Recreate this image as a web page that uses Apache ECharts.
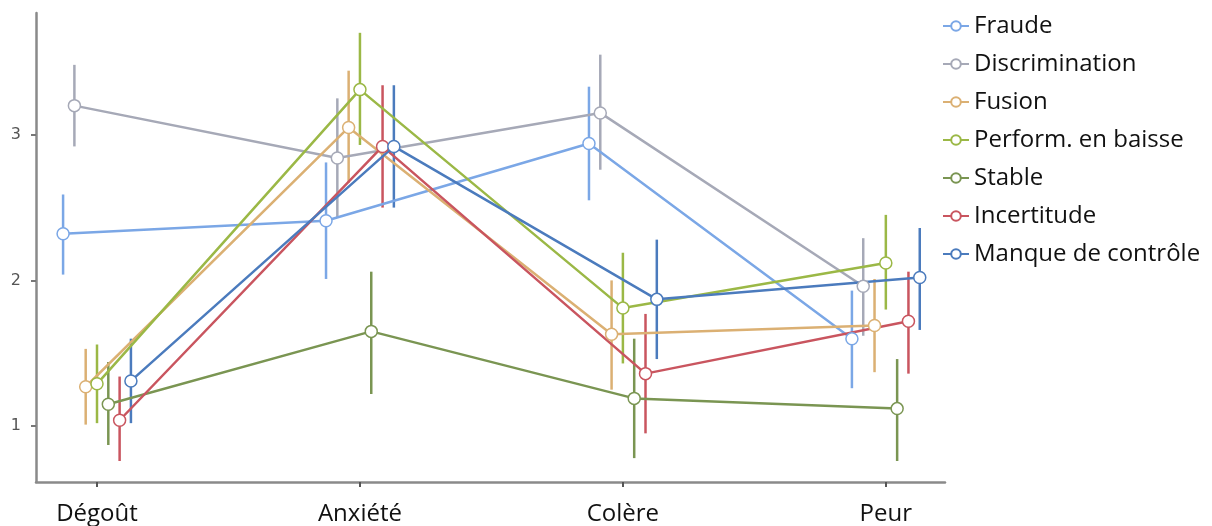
<!DOCTYPE html>
<html>
<head>
<meta charset="utf-8">
<script src="https://cdn.jsdelivr.net/npm/echarts@6/dist/echarts.min.js"></script>
<style>html,body{margin:0;padding:0;background:#fff}#c{width:1212px;height:526px}</style>
</head>
<body>
<div id="c"></div>
<script>
const categories = ['Dégoût', 'Anxiété', 'Colère', 'Peur'];
const seriesNames = ['Fraude', 'Discrimination', 'Fusion', 'Perform. en baisse', 'Stable', 'Incertitude', 'Manque de contrôle'];
const colors = ['#7ba7e6', '#a6a9b7', '#dbb073', '#9bb846', '#7a9552', '#c9555f', '#4b7bbd'];
const yTicks = [1, 2, 3];

// mean values per series, one per category
const fraude         = [2.32, 2.41, 2.94, 1.60];
const discrimination = [3.20, 2.84, 3.15, 1.96];
const fusion         = [1.27, 3.05, 1.63, 1.69];
const perform        = [1.29, 3.31, 1.81, 2.12];
const stable         = [1.15, 1.65, 1.19, 1.12];
const incertitude    = [1.04, 2.92, 1.36, 1.72];
const manque         = [1.31, 2.92, 1.87, 2.02];

// error bar lower bounds
const fraudeLow         = [2.04, 2.01, 2.55, 1.26];
const discriminationLow = [2.92, 2.43, 2.76, 1.62];
const fusionLow         = [1.01, 2.67, 1.25, 1.37];
const performLow        = [1.02, 2.93, 1.43, 1.80];
const stableLow         = [0.87, 1.22, 0.78, 0.76];
const incertitudeLow    = [0.76, 2.50, 0.95, 1.36];
const manqueLow         = [1.02, 2.50, 1.46, 1.66];

// error bar upper bounds
const fraudeHigh         = [2.59, 2.81, 3.33, 1.93];
const discriminationHigh = [3.48, 3.25, 3.55, 2.29];
const fusionHigh         = [1.53, 3.44, 2.00, 2.01];
const performHigh        = [1.56, 3.70, 2.19, 2.45];
const stableHigh         = [1.44, 2.06, 1.60, 1.46];
const incertitudeHigh    = [1.34, 3.34, 1.77, 2.06];
const manqueHigh         = [1.60, 3.34, 2.28, 2.36];

const means = [fraude, discrimination, fusion, perform, stable, incertitude, manque];
const lows = [fraudeLow, discriminationLow, fusionLow, performLow, stableLow, incertitudeLow, manqueLow];
const highs = [fraudeHigh, discriminationHigh, fusionHigh, performHigh, stableHigh, incertitudeHigh, manqueHigh];

const dodge = 0.043;
const series = [];
seriesNames.forEach((name, i) => {
  const off = (i - 3) * dodge;
  series.push({
    name: name + '_err',
    type: 'custom',
    z: 1,
    silent: true,
    data: categories.map((c, k) => [k + off, lows[i][k], highs[i][k]]),
    renderItem: function (params, api) {
      const p1 = api.coord([api.value(0), api.value(1)]);
      const p2 = api.coord([api.value(0), api.value(2)]);
      return {
        type: 'line',
        shape: { x1: p1[0], y1: p1[1], x2: p2[0], y2: p2[1] },
        style: { stroke: colors[i], lineWidth: 2.5 }
      };
    }
  });
});
seriesNames.forEach((name, i) => {
  const off = (i - 3) * dodge;
  series.push({
    name: name,
    type: 'line',
    z: 3,
    data: categories.map((c, k) => [k + off, means[i][k]]),
    symbol: 'circle',
    symbolSize: 12,
    lineStyle: { color: colors[i], width: 2.5 },
    itemStyle: { color: '#ffffff', borderColor: colors[i], borderWidth: 1.5 },
    emphasis: { disabled: true }
  });
});

const chart = echarts.init(document.getElementById('c'), null, { renderer: 'canvas' });
chart.setOption({
  animation: false,
  backgroundColor: '#ffffff',
  grid: { left: 36, right: 267, top: 13, bottom: 43, containLabel: false },
  legend: {
    data: seriesNames,
    orient: 'vertical',
    left: 937,
    top: 9,
    itemWidth: 26,
    itemHeight: 12,
    itemGap: 14,
    textStyle: { fontFamily: 'Open Sans', fontSize: 24, color: '#111', padding: [0, 0, 0, 0] }
  },
  xAxis: {
    type: 'value',
    min: -0.232,
    max: 3.225,
    splitLine: { show: false },
    axisLine: { show: true, onZero: false, lineStyle: { color: '#8a8a8a', width: 2.5 } },
    axisTick: { show: true, customValues: [0, 1, 2, 3], length: 5, inside: false, lineStyle: { color: '#555', width: 2 } },
    axisLabel: {
      customValues: [0, 1, 2, 3],
      formatter: v => categories[Math.round(v)],
      fontFamily: 'Open Sans', fontSize: 24, color: '#111', margin: 20
    }
  },
  yAxis: {
    type: 'value',
    min: 0.616,
    max: 3.836,
    splitLine: { show: false },
    axisLine: { show: true, onZero: false, lineStyle: { color: '#8a8a8a', width: 2.5 } },
    axisTick: { show: true, customValues: yTicks, length: 5, lineStyle: { color: '#777', width: 2 } },
    axisLabel: { customValues: yTicks, fontFamily: 'DejaVu Sans', fontSize: 16, color: '#555', margin: 15 }
  },
  series: series
});
</script>
</body>
</html>
